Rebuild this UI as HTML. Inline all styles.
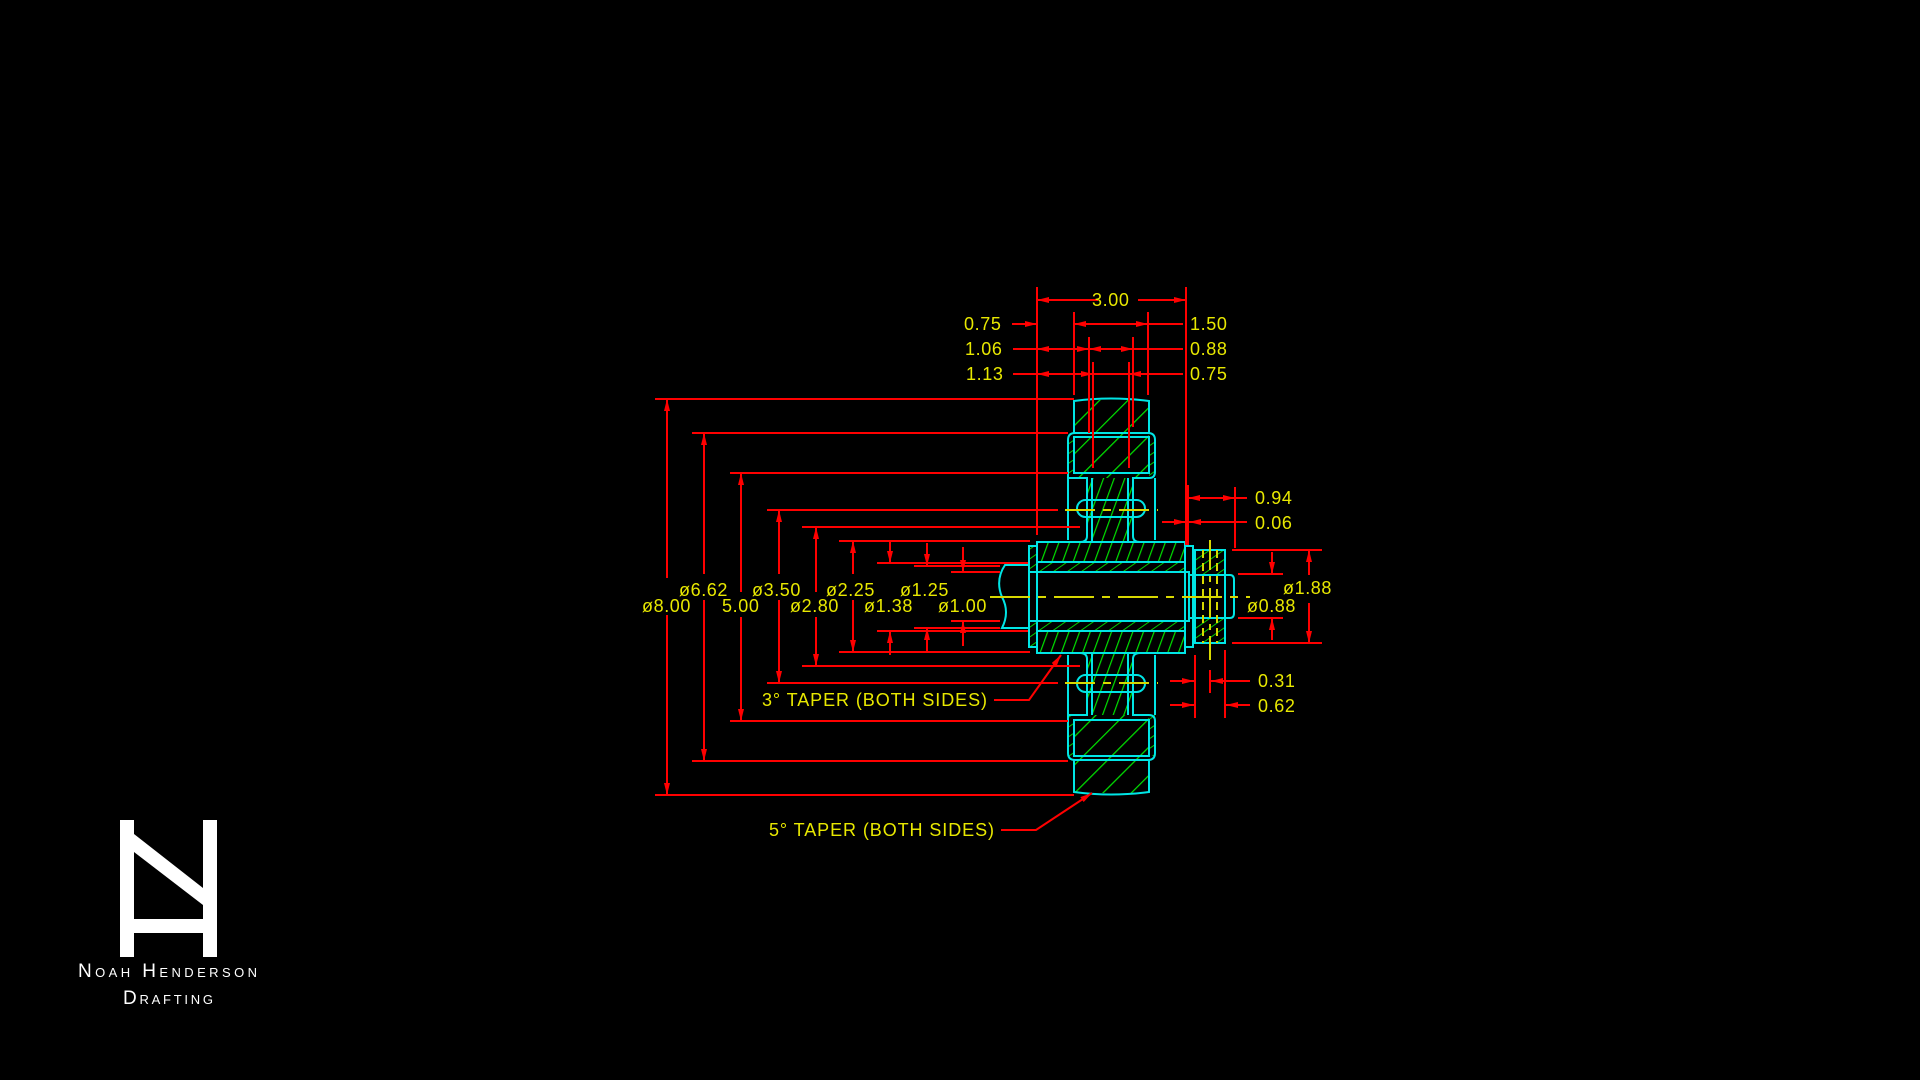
<!DOCTYPE html>
<html><head><meta charset="utf-8"><style>
html,body{margin:0;padding:0;background:#000;width:1920px;height:1080px;overflow:hidden}
svg{display:block}
.t{font-family:"Liberation Sans",sans-serif;font-size:18px;fill:#e8e800;letter-spacing:0.6px}
.l{font-family:"Liberation Sans",sans-serif;fill:#fff;font-variant:small-caps;letter-spacing:3px}
</style></head><body>
<svg width="1920" height="1080" viewBox="0 0 1920 1080" xmlns="http://www.w3.org/2000/svg">
<defs>
<marker id="a" viewBox="0 0 12 6" refX="12" refY="3" markerWidth="12" markerHeight="6" markerUnits="userSpaceOnUse" orient="auto-start-reverse"><path d="M0,0L12,3L0,6z" fill="#f00"/></marker>
<pattern id="h1" width="20" height="20" patternUnits="userSpaceOnUse" patternTransform="rotate(45)"><line x1="0" y1="0" x2="0" y2="20" stroke="#00e000" stroke-width="2.5"/></pattern>
<pattern id="h2" width="10" height="10" patternUnits="userSpaceOnUse" patternTransform="rotate(20)"><line x1="0" y1="0" x2="0" y2="10" stroke="#00e000" stroke-width="2.4"/></pattern>
<pattern id="h3" width="8" height="8" patternUnits="userSpaceOnUse" patternTransform="rotate(55)"><line x1="0" y1="0" x2="0" y2="8" stroke="#00e000" stroke-width="1.8"/></pattern>
</defs>
<rect width="1920" height="1080" fill="#000"/>

<g>
<rect x="1074" y="400" width="75" height="78" fill="url(#h1)"/>
<rect x="1074" y="715" width="75" height="78" fill="url(#h1)"/>
<rect x="1087" y="478" width="46" height="64" fill="url(#h2)"/>
<rect x="1087" y="653" width="46" height="62" fill="url(#h2)"/>
<rect x="1037" y="542" width="148" height="20" fill="url(#h2)"/>
<rect x="1037" y="631" width="148" height="22" fill="url(#h2)"/>
<rect x="1037" y="562" width="148" height="10" fill="url(#h3)"/>
<rect x="1037" y="621" width="148" height="10" fill="url(#h3)"/>
<rect x="1029" y="546" width="8" height="26" fill="url(#h3)"/>
<rect x="1029" y="621" width="8" height="26" fill="url(#h3)"/>
<rect x="1195" y="550" width="30" height="25" fill="url(#h3)"/>
<rect x="1195" y="618" width="30" height="25" fill="url(#h3)"/>
<rect x="1068" y="437" width="6" height="41" fill="url(#h3)"/>
<rect x="1149" y="437" width="6" height="41" fill="url(#h3)"/>
<rect x="1068" y="715" width="6" height="41" fill="url(#h3)"/>
<rect x="1149" y="715" width="6" height="41" fill="url(#h3)"/>
</g>

<g fill="none" stroke="#00e5e5" stroke-width="2">
<path d="M1074,433V401Q1111,396 1149,401V433"/>
<path d="M1068,478V440Q1068,433 1075,433H1148Q1155,433 1155,440V472Q1155,478 1149,478H1133V536Q1133,542 1140,542H1185"/>
<path d="M1068,478H1087V536Q1087,542 1080,542H1037"/>
<rect x="1074" y="437" width="75" height="36"/>
<path d="M1074,760V792Q1111,797 1149,792V760"/>
<path d="M1068,715V753Q1068,760 1075,760H1148Q1155,760 1155,753V721Q1155,715 1149,715H1133V659Q1133,653 1140,653H1185"/>
<path d="M1068,715H1087V659Q1087,653 1080,653H1037"/>
<rect x="1074" y="720" width="75" height="36"/>
<line x1="1068" y1="478" x2="1068" y2="540"/><line x1="1155" y1="478" x2="1155" y2="540"/>
<line x1="1068" y1="655" x2="1068" y2="715"/><line x1="1155" y1="655" x2="1155" y2="715"/>
<line x1="1092" y1="478" x2="1092" y2="542"/><line x1="1128" y1="478" x2="1128" y2="542"/>
<line x1="1092" y1="653" x2="1092" y2="715"/><line x1="1128" y1="653" x2="1128" y2="715"/>
<rect x="1077" y="500" width="68" height="17" rx="8.5"/>
<rect x="1077" y="675" width="68" height="17" rx="8.5"/>
<rect x="1037" y="542" width="148" height="111"/>
<rect x="1029" y="546" width="8" height="101"/>
<rect x="1185" y="546" width="8" height="101"/>
<line x1="1037" y1="562" x2="1185" y2="562"/><line x1="1037" y1="631" x2="1185" y2="631"/>
<rect x="1029" y="572" width="160" height="49"/>
<path d="M1029,565H1005Q995,580 1002,597Q1010,612 1002,628H1029"/>
<rect x="1195" y="550" width="30" height="93"/>
<path d="M1189,575H1230Q1234,575 1234,580V613Q1234,618 1230,618H1189"/>
</g>

<g stroke="#d8d800" stroke-width="2" fill="none">
<line x1="990" y1="597" x2="1250" y2="597" stroke-dasharray="40,8,8,8"/>
<line x1="1065" y1="510" x2="1158" y2="510" stroke-dasharray="30,8,8,8"/>
<line x1="1065" y1="683" x2="1158" y2="683" stroke-dasharray="30,8,8,8"/>
<line x1="1210" y1="540" x2="1210" y2="660" stroke-dasharray="30,6,6,6"/>
<line x1="1203" y1="550" x2="1203" y2="643" stroke-dasharray="8,5"/>
<line x1="1217" y1="550" x2="1217" y2="643" stroke-dasharray="8,5"/>
</g>

<g stroke="#f00" stroke-width="2" fill="none">
<line x1="655" y1="399" x2="1074" y2="399"/>
<line x1="692" y1="433" x2="1068" y2="433"/>
<line x1="730" y1="473" x2="1068" y2="473"/>
<line x1="767" y1="510" x2="1058" y2="510"/>
<line x1="802" y1="527" x2="1080" y2="527"/>
<line x1="839" y1="541" x2="1030" y2="541"/>
<line x1="877" y1="563" x2="1028" y2="563"/>
<line x1="914" y1="566" x2="1000" y2="566"/>
<line x1="951" y1="572" x2="1000" y2="572"/>
<line x1="951" y1="621" x2="1000" y2="621"/>
<line x1="914" y1="628" x2="1000" y2="628"/>
<line x1="877" y1="631" x2="1028" y2="631"/>
<line x1="839" y1="652" x2="1030" y2="652"/>
<line x1="802" y1="666" x2="1080" y2="666"/>
<line x1="767" y1="683" x2="1058" y2="683"/>
<line x1="730" y1="721" x2="1068" y2="721"/>
<line x1="692" y1="761" x2="1068" y2="761"/>
<line x1="655" y1="795" x2="1074" y2="795"/>

<line x1="667" y1="578" x2="667" y2="399" marker-end="url(#a)"/><line x1="667" y1="615" x2="667" y2="795" marker-end="url(#a)"/>
<line x1="704" y1="574" x2="704" y2="433" marker-end="url(#a)"/><line x1="704" y1="600" x2="704" y2="761" marker-end="url(#a)"/>
<line x1="741" y1="592" x2="741" y2="473" marker-end="url(#a)"/><line x1="741" y1="617" x2="741" y2="721" marker-end="url(#a)"/>
<line x1="779" y1="574" x2="779" y2="510" marker-end="url(#a)"/><line x1="779" y1="600" x2="779" y2="683" marker-end="url(#a)"/>
<line x1="816" y1="592" x2="816" y2="527" marker-end="url(#a)"/><line x1="816" y1="617" x2="816" y2="666" marker-end="url(#a)"/>
<line x1="853" y1="574" x2="853" y2="541" marker-end="url(#a)"/><line x1="853" y1="600" x2="853" y2="652" marker-end="url(#a)"/>
<line x1="890" y1="541" x2="890" y2="563" marker-end="url(#a)"/><line x1="890" y1="655" x2="890" y2="631" marker-end="url(#a)"/>
<line x1="927" y1="543" x2="927" y2="566" marker-end="url(#a)"/><line x1="927" y1="652" x2="927" y2="628" marker-end="url(#a)"/>
<line x1="963" y1="547" x2="963" y2="572" marker-end="url(#a)"/><line x1="963" y1="646" x2="963" y2="621" marker-end="url(#a)"/>

<line x1="1037" y1="287" x2="1037" y2="535"/>
<line x1="1186" y1="287" x2="1186" y2="545"/>
<line x1="1098" y1="300" x2="1037" y2="300" marker-end="url(#a)"/>
<line x1="1138" y1="300" x2="1186" y2="300" marker-end="url(#a)"/>
<line x1="1074" y1="312" x2="1074" y2="395"/>
<line x1="1148" y1="312" x2="1148" y2="395"/>
<line x1="1089" y1="337" x2="1089" y2="433"/>
<line x1="1133" y1="337" x2="1133" y2="427"/>
<line x1="1093" y1="362" x2="1093" y2="468"/>
<line x1="1129" y1="362" x2="1129" y2="468"/>
<line x1="1012" y1="324" x2="1037" y2="324" marker-end="url(#a)"/>
<line x1="1111" y1="324" x2="1074" y2="324" marker-end="url(#a)"/>
<line x1="1111" y1="324" x2="1148" y2="324" marker-end="url(#a)"/>
<line x1="1148" y1="324" x2="1183" y2="324"/>
<line x1="1013" y1="349" x2="1183" y2="349"/>
<line x1="1062" y1="349" x2="1037" y2="349" marker-end="url(#a)"/>
<line x1="1062" y1="349" x2="1089" y2="349" marker-end="url(#a)"/>
<line x1="1111" y1="349" x2="1089" y2="349" marker-end="url(#a)"/>
<line x1="1111" y1="349" x2="1133" y2="349" marker-end="url(#a)"/>
<line x1="1013" y1="374" x2="1183" y2="374"/>
<line x1="1062" y1="374" x2="1037" y2="374" marker-end="url(#a)"/>
<line x1="1062" y1="374" x2="1093" y2="374" marker-end="url(#a)"/>
<line x1="1160" y1="374" x2="1129" y2="374" marker-end="url(#a)"/>

<line x1="1188" y1="485" x2="1188" y2="545"/>
<line x1="1235" y1="487" x2="1235" y2="548"/>
<line x1="1211" y1="498" x2="1188" y2="498" marker-end="url(#a)"/>
<line x1="1211" y1="498" x2="1235" y2="498" marker-end="url(#a)"/>
<line x1="1235" y1="498" x2="1247" y2="498"/>
<line x1="1162" y1="522" x2="1186" y2="522" marker-end="url(#a)"/>
<line x1="1247" y1="522" x2="1189" y2="522" marker-end="url(#a)"/>
<line x1="1232" y1="550" x2="1322" y2="550"/>
<line x1="1232" y1="643" x2="1322" y2="643"/>
<line x1="1238" y1="574" x2="1283" y2="574"/>
<line x1="1238" y1="618" x2="1283" y2="618"/>
<line x1="1309" y1="575" x2="1309" y2="550" marker-end="url(#a)"/>
<line x1="1309" y1="603" x2="1309" y2="643" marker-end="url(#a)"/>
<line x1="1272" y1="552" x2="1272" y2="574" marker-end="url(#a)"/>
<line x1="1272" y1="640" x2="1272" y2="618" marker-end="url(#a)"/>
<line x1="1195" y1="655" x2="1195" y2="718"/>
<line x1="1210" y1="670" x2="1210" y2="693"/>
<line x1="1225" y1="650" x2="1225" y2="718"/>
<line x1="1170" y1="681" x2="1194" y2="681" marker-end="url(#a)"/>
<line x1="1250" y1="681" x2="1211" y2="681" marker-end="url(#a)"/>
<line x1="1170" y1="705" x2="1194" y2="705" marker-end="url(#a)"/>
<line x1="1250" y1="705" x2="1226" y2="705" marker-end="url(#a)"/>

<polyline points="994,700 1029,700 1061,655" marker-end="url(#a)"/>
<polyline points="1001,830 1036,830 1092,793" marker-end="url(#a)"/>
</g>

<g class="t">
<text x="1092" y="306">3.00</text>
<text x="964" y="330">0.75</text>
<text x="1190" y="330">1.50</text>
<text x="965" y="355">1.06</text>
<text x="1190" y="355">0.88</text>
<text x="966" y="380">1.13</text>
<text x="1190" y="380">0.75</text>
<text x="642" y="612">ø8.00</text>
<text x="679" y="596">ø6.62</text>
<text x="722" y="612">5.00</text>
<text x="752" y="596">ø3.50</text>
<text x="790" y="612">ø2.80</text>
<text x="826" y="596">ø2.25</text>
<text x="864" y="612">ø1.38</text>
<text x="900" y="596">ø1.25</text>
<text x="938" y="612">ø1.00</text>
<text x="1255" y="504">0.94</text>
<text x="1255" y="529">0.06</text>
<text x="1283" y="594">ø1.88</text>
<text x="1247" y="612">ø0.88</text>
<text x="1258" y="687">0.31</text>
<text x="1258" y="712">0.62</text>
<text x="762" y="706" textLength="225" lengthAdjust="spacing" letter-spacing="0">3° TAPER (BOTH SIDES)</text>
<text x="769" y="836" textLength="225" lengthAdjust="spacing" letter-spacing="0">5° TAPER (BOTH SIDES)</text>
</g>

<g fill="#fff">
<rect x="120" y="820" width="14" height="137"/>
<rect x="203" y="820" width="14" height="137"/>
<rect x="134" y="919" width="69" height="14"/>
<polygon points="134,834 203,888 203,905 134,852"/>
<polygon points="120,820 134,820 134,852 120,842"/>
</g>
<text class="l" x="78" y="977" textLength="182" lengthAdjust="spacing" font-size="19">Noah Henderson</text>
<text class="l" x="123" y="1004" textLength="93" lengthAdjust="spacing" font-size="19">Drafting</text>
</svg>
</body></html>
